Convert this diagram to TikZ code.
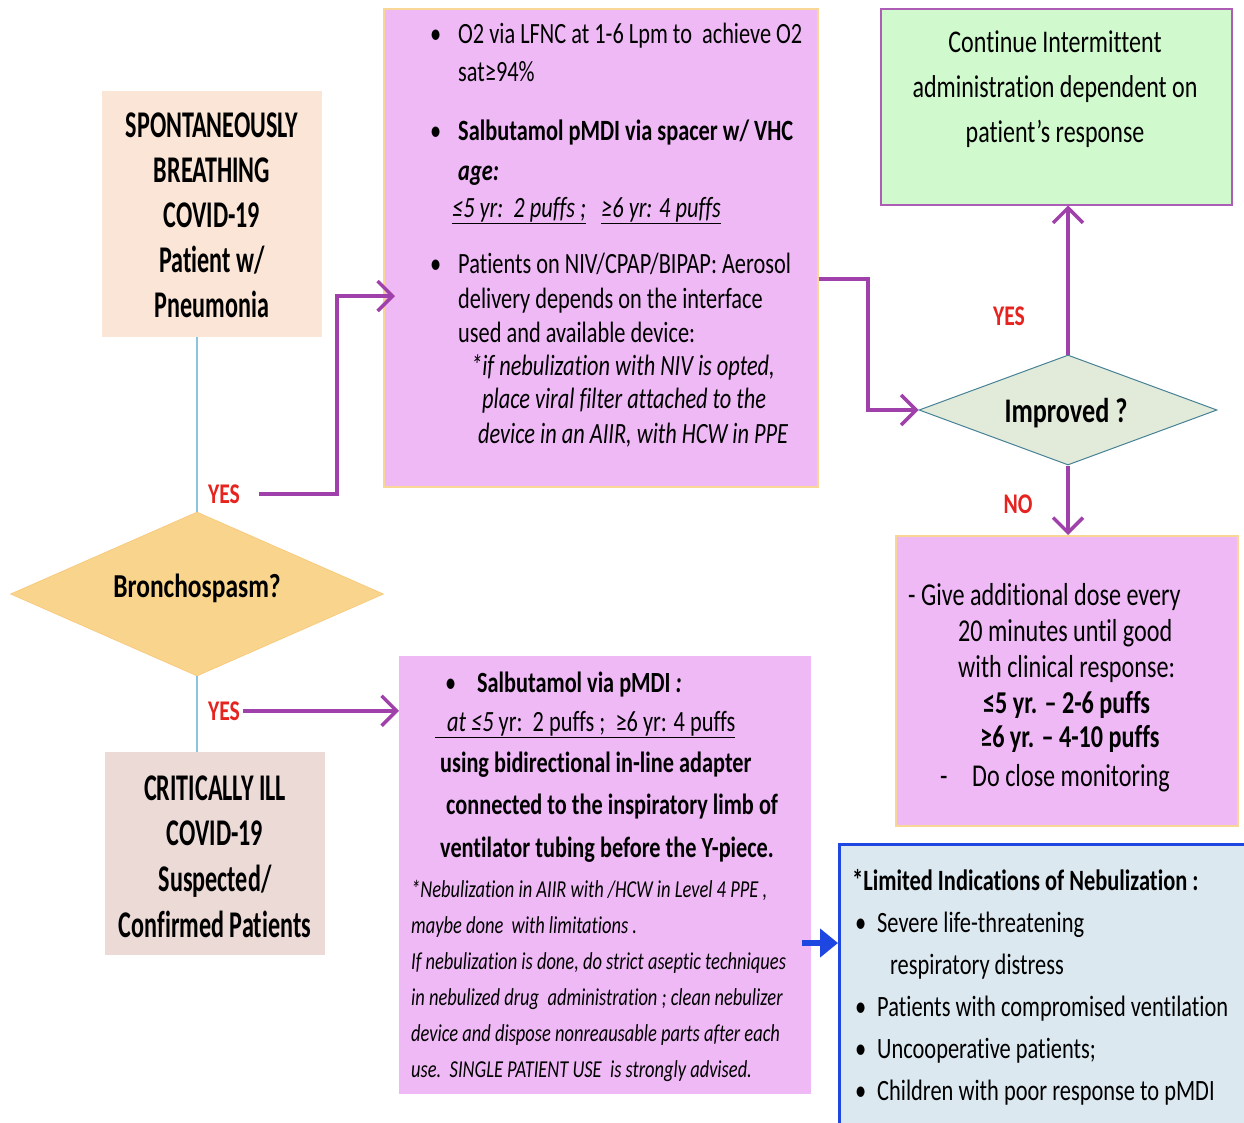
\documentclass[tikz,border=0pt]{standalone}
\usepackage{fontspec}
\setmainfont{Carlito}[FakeStretch=0.76,Ligatures=NoCommon]
\newfontfamily\condfont{Carlito}[FakeStretch=0.64,Ligatures=NoCommon]
\usetikzlibrary{shapes.geometric,arrows.meta,calc}
\newcommand\fsz[2]{\fontsize{#1}{#2}\selectfont}
\definecolor{pinkbox}{RGB}{239,185,246}
\definecolor{peach}{RGB}{250,229,214}
\definecolor{rosebox}{RGB}{235,218,214}
\definecolor{greenbox}{RGB}{208,250,205}
\definecolor{diaone}{RGB}{248,212,140}
\definecolor{diatwo}{RGB}{226,234,218}
\definecolor{bluebox}{RGB}{220,232,240}
\definecolor{lineblue}{RGB}{140,195,222}
\definecolor{arrowpurple}{RGB}{160,64,170}
\definecolor{boxorange}{RGB}{247,214,150}
\definecolor{bluedark}{RGB}{30,70,225}
\definecolor{labelred}{RGB}{230,35,30}
\definecolor{tealedge}{RGB}{70,130,150}
\begin{document}
\begin{tikzpicture}[x=1pt,y=-1pt,
  box/.style={rectangle, inner sep=0pt, anchor=north west},
  tl/.style={inner sep=0pt, anchor=base west},
  tc/.style={inner sep=0pt, anchor=base},
  parrow/.style={draw=arrowpurple, line width=3.5pt, -{Straight Barb[length=15pt,width=30pt]}},
  barrow/.style={draw=bluedark, line width=6pt, -{Triangle[length=18pt,width=28pt]}},
  bline/.style={draw=lineblue, line width=2.5pt},
  lbl/.style={tc, text=labelred, font=\bfseries\fsz{28.5}{28.5}},
  condb/.style={tc, font=\condfont\bfseries\fsz{37.7}{45}},
  regtwo/.style={tl, font=\fsz{29.4}{34}},
  regfour/.style={tl, font=\fsz{31.8}{35}},
  boldsix/.style={tl, font=\bfseries\fsz{29.3}{34}},
  itsix/.style={tl, font=\itshape\fsz{24.3}{36}},
  regseven/.style={tl, font=\fsz{29.5}{34}},
]
\useasboundingbox (0,0) rectangle (1244,1122);
\fill[white] (0,0) rectangle (1244,1122);

% boxes
\node[box, fill=peach, minimum width=220pt, minimum height=246pt] (b1) at (102,91) {};
\node[box, fill=pinkbox, draw=boxorange, line width=1.5pt, minimum width=434pt, minimum height=478pt] (b2) at (383,8) {};
\node[box, fill=greenbox, draw=arrowpurple!85, line width=1.5pt, minimum width=351pt, minimum height=196pt] (b3) at (880,8) {};
\node[diamond, fill=diatwo, draw=tealedge, line width=1pt, minimum width=298pt, minimum height=110pt, inner sep=0pt] (d2) at (1068,410) {};
\node[box, fill=pinkbox, draw=boxorange, line width=1.5pt, minimum width=342pt, minimum height=290pt] (b4) at (895,535) {};
\node[diamond, fill=diaone, draw=diaone!85!orange, line width=0.6pt, minimum width=373pt, minimum height=164pt, inner sep=0pt] (d1) at (197,594) {};
\node[box, fill=rosebox, minimum width=220pt, minimum height=203pt] (b5) at (105,752) {};
\node[box, fill=pinkbox, minimum width=412pt, minimum height=438pt] (b6) at (399,656) {};
\node[box, fill=bluebox, draw=bluedark, line width=3pt, minimum width=430pt, minimum height=300pt] (b7) at (838,843) {};

% box 1 text
\node[condb] (t1a) at (212,137) {SPONTANEOUSLY};
\node[condb] (t1b) at (212,182) {BREATHING};
\node[condb] (t1c) at (212,227) {COVID-19};
\node[condb] (t1d) at (212,272) {Patient w/};
\node[condb] (t1e) at (212,317) {Pneumonia};

% box 2 text
\node[regtwo] (t2a) at (430,43) {\makebox[28pt][l]{•}O2 via LFNC at 1-6 Lpm to\ \ achieve O2};
\node[regtwo] (t2b) at (458,81) {sat≥94\%};
\node[regtwo] (t2c) at (430,140) {\makebox[28pt][l]{•}\textbf{Salbutamol pMDI via spacer w/ VHC}};
\node[regtwo] (t2d) at (458,180) {\textbf{\textit{age:}}};
\node[regtwo] (t2e) at (452,217) {\textit{\underline{≤5 yr:\ \ 2 puffs ;}\ \ \ \underline{≥6 yr: 4 puffs}}};
\node[regtwo] (t2f) at (430,273) {\makebox[28pt][l]{•}Patients on NIV/CPAP/BIPAP: Aerosol};
\node[regtwo] (t2g) at (458,308) {delivery depends on the interface};
\node[regtwo] (t2h) at (458,342) {used and available device:};
\node[regtwo] (t2i) at (471,375) {\textit{*if nebulization with NIV is opted,}};
\node[regtwo] (t2j) at (482,408) {\textit{place viral filter attached to the}};
\node[regtwo] (t2k) at (478,443) {\textit{device in an AIIR, with HCW in PPE}};

% box 3 text
\node[tc, font=\fsz{31.6}{45}] (t3a) at (1055,52) {Continue Intermittent};
\node[tc, font=\fsz{31.6}{45}] (t3b) at (1055,97) {administration dependent on};
\node[tc, font=\fsz{31.6}{45}] (t3c) at (1055,142) {patient’s response};

% diamonds text
\node[tc, font=\bfseries\fsz{33.5}{33.5}] (d1t) at (197,597) {Bronchospasm?};
\node[tc, font=\bfseries\fsz{34.5}{34.5}] (d2t) at (1066,422) {Improved ?};

% box 4 text
\node[regfour] (t4a) at (908,605) {- Give additional dose every};
\node[regfour] (t4b) at (958,641) {20 minutes until good};
\node[regfour] (t4c) at (958,677) {with clinical response:};
\node[regfour] (t4d) at (983,713) {\textbf{≤5 yr. – 2-6 puffs}};
\node[regfour] (t4e) at (980,747) {\textbf{≥6 yr. – 4-10 puffs}};
\node[regfour] (t4f) at (940,786) {\makebox[32pt][l]{-}Do close monitoring};

% box 5 text
\node[condb] (t5a) at (215,800) {CRITICALLY ILL};
\node[condb] (t5b) at (215,845) {COVID-19};
\node[condb] (t5c) at (215,891) {Suspected/};
\node[condb] (t5d) at (215,937) {Confirmed Patients};

% box 6 text
\node[boldsix] (t6a) at (445,692) {\makebox[32pt][l]{\mdseries•}Salbutamol via pMDI\textit{ :}};
\node[regtwo] (t6b) at (435,731) {\underline{\hspace{12pt}\textit{at ≤5} yr:\ \ 2 puffs ;\ \ ≥6 yr: 4 puffs}};
\node[boldsix] (t6c) at (440,772) {using bidirectional in-line adapter};
\node[boldsix] (t6d) at (446,814) {connected to the inspiratory limb of};
\node[boldsix] (t6e) at (440,857) {ventilator tubing before the Y-piece.};
\node[itsix] (t6f) at (411,897) {*Nebulization in AIIR with /HCW in Level 4 PPE ,};
\node[itsix] (t6g) at (411,933) {maybe done\ \ with limitations .};
\node[itsix] (t6h) at (411,969) {If nebulization is done, do strict aseptic techniques};
\node[itsix] (t6i) at (411,1005) {in nebulized drug\ \ administration ; clean nebulizer};
\node[itsix] (t6j) at (411,1041) {device and dispose nonreausable parts after each};
\node[itsix] (t6k) at (411,1077) {use.\ \ SINGLE PATIENT USE\ \ is strongly advised.};

% box 7 text
\node[regseven] (t7a) at (852,890) {\textbf{*Limited Indications of Nebulization :}};
\node[regseven] (t7b) at (855,932) {\makebox[22pt][l]{•}Severe life-threatening};
\node[regseven] (t7c) at (890,974) {respiratory distress};
\node[regseven] (t7d) at (855,1016) {\makebox[22pt][l]{•}Patients with compromised ventilation};
\node[regseven] (t7e) at (855,1058) {\makebox[22pt][l]{•}Uncooperative patients;};
\node[regseven] (t7f) at (855,1100) {\makebox[22pt][l]{•}Children with poor response to pMDI};

% labels
\node[lbl] (yes1) at (224,503) {YES};
\node[lbl] (yes2) at (224,720) {YES};
\node[lbl] (yes3) at (1009,325) {YES};
\node[lbl] (no1) at (1018,513) {NO};

% connectors
\draw[bline] (b1.south -| d1.north) -- (d1.north);
\draw[bline] (d1.south) -- (d1.south |- b5.north);
\coordinate (k1) at (337,296);
\draw[parrow] ([xshift=19pt]yes1.east) -| (k1) -- ($(k1 -| b2.west)+(12,0)$);
\draw[parrow] ([xshift=3pt]yes2.east) -- (yes2.east -| b6.west);
\coordinate (k2) at (868,279);
\draw[parrow] (k2 -| b2.east) -- (k2) |- (d2.west);
\draw[parrow] (d2.north) -- (d2.north |- b3.south);
\draw[parrow] (d2.south) -- (d2.south |- b4.north);
\coordinate (k3) at (810,943);
\draw[barrow] ($(k3)+(-8,0)$) -- (k3 -| b7.west);
\end{tikzpicture}
\end{document}
